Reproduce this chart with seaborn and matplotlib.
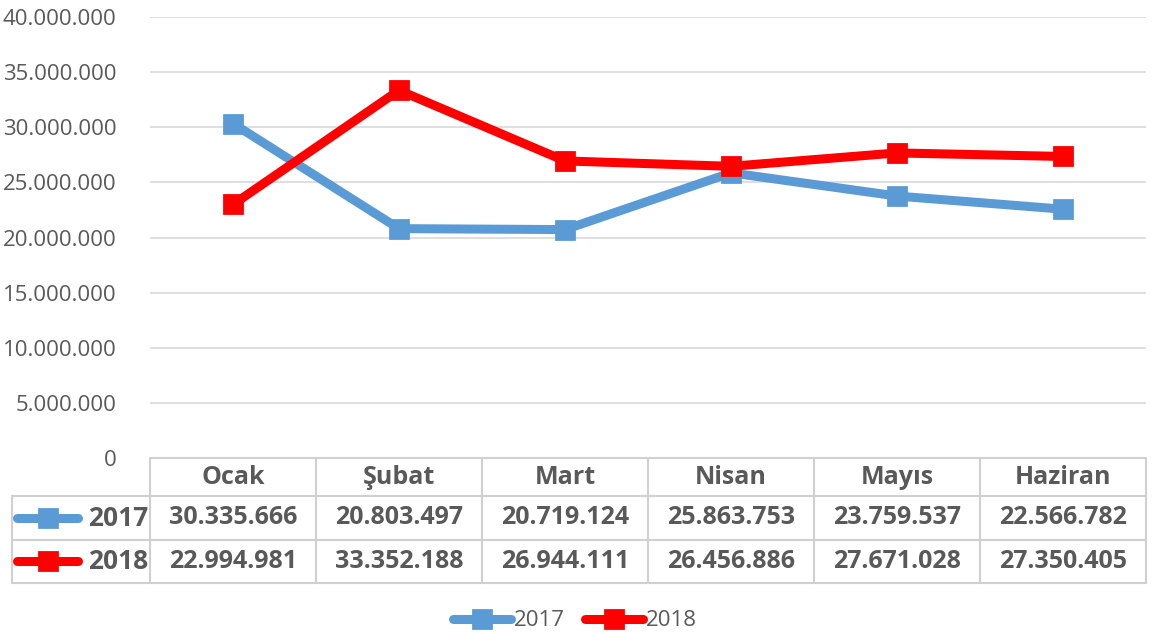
import pandas as pd
import numpy as np
import matplotlib.pyplot as plt
import seaborn as sns
from matplotlib.lines import Line2D

# Data
months = ["Ocak", "Şubat", "Mart", "Nisan", "Mayıs", "Haziran"]
years = ["2017", "2018"]
values_2017 = [30335666, 20803497, 20719124, 25863753, 23759537, 22566782]
values_2018 = [22994981, 33352188, 26944111, 26456886, 27671028, 27350405]
colors = {"2017": "#5B9BD5", "2018": "#FF0000"}

df = pd.DataFrame({
    "month": months * 2,
    "x": list(range(len(months))) * 2,
    "value": values_2017 + values_2018,
    "year": ["2017"] * 6 + ["2018"] * 6,
})


def fmt(v):
    return f"{int(v):,}".replace(",", ".")


sns.set_style("white")
plt.rcParams['font.family'] = ['Open Sans', 'DejaVu Sans']

W, H = 1157, 636
fig = plt.figure(figsize=(W / 100, H / 100), dpi=100)

# plot area in pixels
left_px, right_px = 150, 1146
top_px, bottom_px = 17, 458
ax = fig.add_axes([left_px / W, 1 - bottom_px / H,
                   (right_px - left_px) / W, (bottom_px - top_px) / H])

sns.lineplot(data=df, x="x", y="value", hue="year", palette=colors,
             lw=6.5, marker="s", markersize=13, markeredgewidth=0,
             legend=False, ax=ax, solid_capstyle="round",
             solid_joinstyle="round")
for ln in ax.lines:
    ln.set_markeredgecolor(ln.get_color())
    ln.set_markeredgewidth(2)
    ln.set_markerfacecolor(ln.get_color())

ax.set_xlim(-0.5, len(months) - 0.5)
ax.set_ylim(0, 40e6)
ax.set_yticks(np.arange(0, 40e6 + 1, 5e6))
ax.set_yticklabels([fmt(v) for v in np.arange(0, 40e6 + 1, 5e6)])
ax.tick_params(axis="y", length=0, pad=24, labelsize=16, labelcolor="#595959")
ax.set_xticks([])
ax.set_xlabel("")
ax.set_ylabel("")
ax.grid(axis="y", color="#D9D9D9", lw=1.2)
ax.set_axisbelow(True)
for s in ax.spines.values():
    s.set_visible(False)

# data table under the plot
table_bottom_px = 583
tax = fig.add_axes([left_px / W, 1 - table_bottom_px / H,
                    (right_px - left_px) / W, (table_bottom_px - bottom_px) / H])
tax.set_xlim(-0.5, len(months) - 0.5)
tax.set_ylim(3, 0)
tax.axis("off")
label_left = -0.5 - (left_px - 12) / ((right_px - left_px) / len(months))
line_kw = dict(color="#D0D0D0", lw=1.5, clip_on=False)
row_y = [0, 0.92, 1.96, 3]
tax.plot([-0.5, len(months) - 0.5], [row_y[0]] * 2, **line_kw)
for y in row_y[1:]:
    tax.plot([label_left, len(months) - 0.5], [y, y], **line_kw)
for k in range(len(months) + 1):
    tax.plot([k - 0.5] * 2, [0, 3], **line_kw)
tax.plot([label_left] * 2, [row_y[1], 3], **line_kw)

txt_kw = dict(ha="center", va="center", fontsize=18, fontweight="bold",
              color="#595959", clip_on=False)
for i, m in enumerate(months):
    tax.text(i, (row_y[0] + row_y[1]) / 2, m, **txt_kw)
for r, (yr, vals) in enumerate([("2017", values_2017), ("2018", values_2018)]):
    yc = (row_y[r + 1] + row_y[r + 2]) / 2
    for i, v in enumerate(vals):
        tax.text(i, yc, fmt(v), **txt_kw)
    tax.plot([label_left + 0.03, label_left + 0.40], [yc, yc], color=colors[yr],
             lw=6.5, solid_capstyle="round", clip_on=False)
    tax.plot([label_left + 0.215], [yc], marker="s", markersize=13,
             color=colors[yr], mec=colors[yr], mew=2, clip_on=False)
    tax.text(-0.5 - 0.01, yc, yr, ha="right", va="center", fontsize=19,
             fontweight="bold", color="#595959", clip_on=False)

# legend at the bottom
handles = [Line2D([0], [0], color=colors[y], lw=6.5, marker="s", markersize=13,
                  solid_capstyle="round", mec=colors[y], mew=2) for y in years]
fig.legend(handles, years, loc="center", bbox_to_anchor=(0.497, 1 - 621 / H),
           ncol=2, frameon=False, fontsize=16, labelcolor="#595959",
           handlelength=2.6, handletextpad=0.15, columnspacing=0.9)

fig.savefig("out.png", dpi=100)
